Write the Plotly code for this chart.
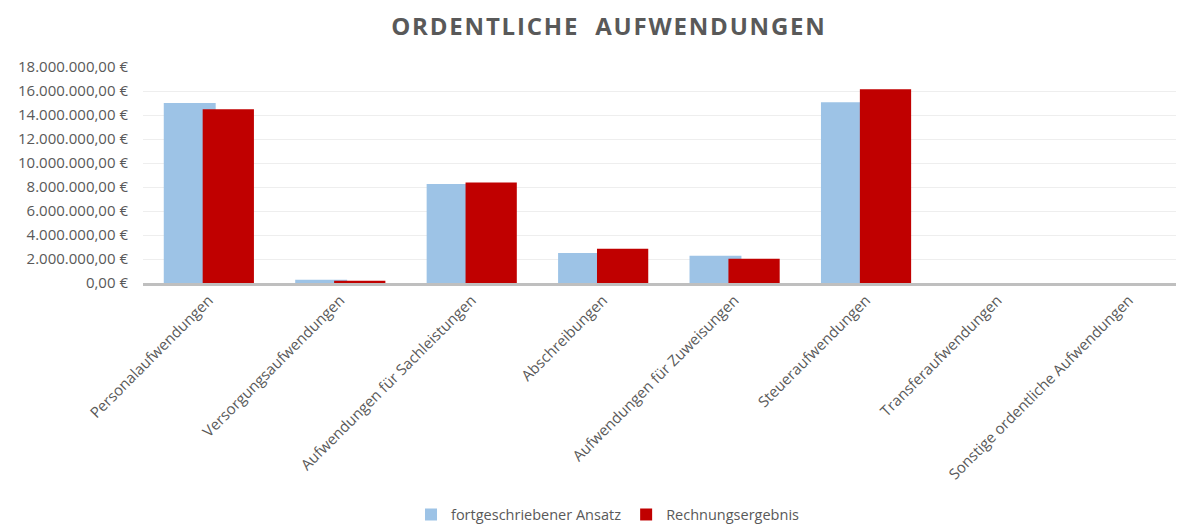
import plotly.graph_objects as go

kategorien = [
    "Personalaufwendungen",
    "Versorgungsaufwendungen",
    "Aufwendungen für Sachleistungen",
    "Abschreibungen",
    "Aufwendungen für Zuweisungen",
    "Steueraufwendungen",
    "Transferaufwendungen",
    "Sonstige ordentliche Aufwendungen",
]
ansatz = [15000000, 270000, 8260000, 2490000, 2270000, 15070000, 0, 0]
ergebnis = [14480000, 180000, 8380000, 2860000, 2020000, 16150000, 0, 0]
y_ticks = [0, 2000000, 4000000, 6000000, 8000000, 10000000, 12000000, 14000000, 16000000, 18000000]


def euro(v):
    # deutsches Format: 18.000.000,00 €
    s = f"{v:,.2f}".replace(",", "X").replace(".", ",").replace("X", ".")
    return s + " €"


GRAU = "#595959"

fig = go.Figure()

# Excel-Stil: Balken überlappen leicht, roter Balken liegt vorne
fig.add_trace(go.Bar(
    x=kategorien, y=ansatz,
    name="fortgeschriebener Ansatz",
    marker=dict(color="#9DC3E6", line=dict(width=0)),
    width=0.395, offset=-0.342,
))
fig.add_trace(go.Bar(
    x=kategorien, y=ergebnis,
    name="Rechnungsergebnis",
    marker=dict(color="#C00000", line=dict(width=0)),
    width=0.39, offset=-0.046,
))

# Seite hat 8px Rand -> Figur etwas kleiner
fig.update_layout(
    barmode="overlay",
    width=1176, height=520,
    plot_bgcolor="white", paper_bgcolor="white",
    font=dict(family="Open Sans", color=GRAU, size=15),
    title=dict(
        text="<b><span style='letter-spacing:1.8px'>ORDENTLICHE  AUFWENDUNGEN</span></b>",
        x=0.511, xanchor="center", y=0.965, yanchor="middle",
        font=dict(size=24, color=GRAU, family="Open Sans"),
    ),
    margin=dict(l=135, r=0, t=59, b=245, autoexpand=False),
    showlegend=True,
    legend=dict(
        orientation="h", x=0.4467, xanchor="center",
        y=-1.072, yanchor="middle",
        font=dict(size=14.5, color=GRAU),
        itemwidth=30,
    ),
)
fig.update_yaxes(
    range=[0, 18000000],
    tickvals=y_ticks,
    ticktext=[euro(v) for v in y_ticks],
    showgrid=True, gridcolor="#EEEEEE", gridwidth=1,
    zeroline=False, showline=False,
    tickfont=dict(size=15, color=GRAU),
    ticklen=0, ticklabelstandoff=14, automargin=False,
)
fig.update_xaxes(
    range=[-0.5, 7.42],
    tickangle=-45,
    showline=True, linecolor="#BFBFBF", linewidth=2.5,
    tickfont=dict(size=15, color=GRAU),
    showgrid=False, automargin=False,
)

fig.write_html("out.html")
